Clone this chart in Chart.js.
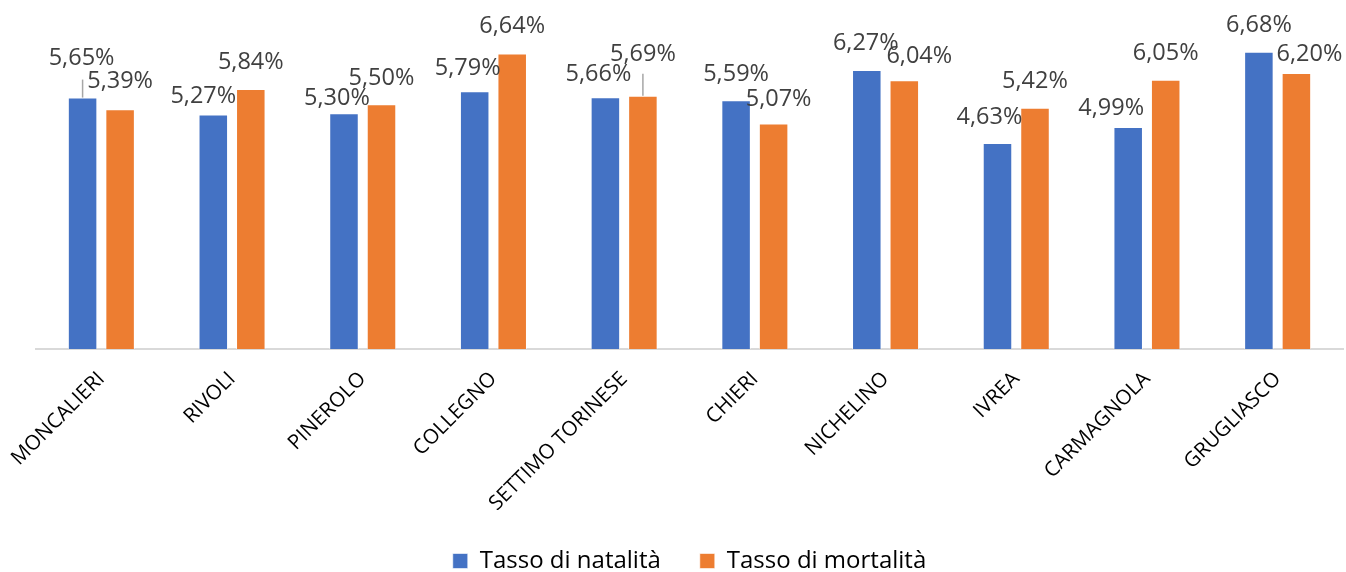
<!DOCTYPE html>
<html>
<head>
<meta charset="utf-8">
<script src="https://cdn.jsdelivr.net/npm/chart.js@4/dist/chart.umd.min.js"></script>
<style>
    html, body { margin: 0; padding: 0; background: #fff; overflow: hidden; }
    #wrap { width: 1346px; height: 583px; position: relative; }
</style>
</head>
<body>
<div id="wrap"><canvas id="myChart"></canvas></div>
<script>
const categories = ['MONCALIERI', 'RIVOLI', 'PINEROLO', 'COLLEGNO', 'SETTIMO TORINESE',
    'CHIERI', 'NICHELINO', 'IVREA', 'CARMAGNOLA', 'GRUGLIASCO'];
const natalita = [5.65, 5.27, 5.30, 5.79, 5.66, 5.59, 6.27, 4.63, 4.99, 6.68];
const mortalita = [5.39, 5.84, 5.50, 6.64, 5.69, 5.07, 6.04, 5.42, 6.05, 6.20];

// label nudges in px from the bar top (dx, dy of the label centre), leader = grey line length
const labelNudges = [
    { 0: [-1, -39, 18], 1: [-10, -18], 2: [-7, -15], 3: [-7, -23], 4: [-7, -23],
      5: [0, -26], 6: [-1, -27], 7: [-8, -26], 8: [-17, -19], 9: [0, -26] },
    { 0: [0, -28], 1: [0, -27], 2: [0, -26], 3: [0, -27], 4: [0, -41, 22],
      5: [5, -24], 6: [15, -24], 7: [0, -26], 8: [0, -26], 9: [13, -19] }
];

const valueLabels = {
    id: 'valueLabels',
    afterDatasetsDraw(chart) {
        const ctx = chart.ctx;
        ctx.save();
        ctx.font = '23.5px "Open Sans"';
        ctx.fillStyle = '#404040';
        ctx.textAlign = 'center';
        ctx.textBaseline = 'middle';
        chart.data.datasets.forEach((ds, d) => {
            chart.getDatasetMeta(d).data.forEach((bar, i) => {
                const n = labelNudges[d][i] || [0, -26];
                if (n[2]) {
                    ctx.strokeStyle = '#a6a6a6';
                    ctx.lineWidth = 1.5;
                    ctx.beginPath();
                    ctx.moveTo(bar.x, bar.y - n[2]);
                    ctx.lineTo(bar.x, bar.y);
                    ctx.stroke();
                }
                const txt = ds.data[i].toFixed(2).replace('.', ',') + '%';
                ctx.fillText(txt, bar.x + n[0], bar.y + n[1]);
            });
        });
        ctx.restore();
    }
};

function displayChart() {
    const ctx = document.getElementById('myChart');
    new Chart(ctx, {
        type: 'bar',
        data: {
            labels: categories,
            datasets: [{
                label: 'Tasso di natalità',
                data: natalita,
                backgroundColor: '#4472C4',
                borderColor: 'rgba(255,255,255,0.6)',
                borderWidth: 1
            }, {
                label: 'Tasso di mortalità',
                data: mortalita,
                backgroundColor: '#ED7D31',
                borderColor: 'rgba(255,255,255,0.6)',
                borderWidth: 1
            }]
        },
        options: {
            responsive: true,
            maintainAspectRatio: false,
            animation: false,
            datasets: {
                bar: { categoryPercentage: 0.574, barPercentage: 0.787 }
            },
            layout: { padding: { left: 36, right: 3, top: 37.5, bottom: 0 } },
            scales: {
                x: {
                    grid: { display: false, drawTicks: false },
                    border: { display: true, color: '#d9d9d9', width: 2 },
                    ticks: {
                        color: '#000',
                        font: { family: 'Open Sans', size: 20.5 },
                        minRotation: 45,
                        maxRotation: 45,
                        padding: 18
                    },
                    afterFit(scale) {
                        scale.height = 161;
                        scale.paddingLeft = 0;
                        scale.paddingRight = 0;
                    }
                },
                y: { display: false, min: 0, max: 7 }
            },
            plugins: {
                legend: {
                    position: 'bottom',
                    labels: {
                        color: '#000',
                        font: { family: 'Open Sans', size: 24 },
                        boxWidth: 15,
                        boxHeight: 15,
                        padding: 39
                    }
                },
                tooltip: { enabled: false }
            }
        },
        plugins: [valueLabels]
    });
}

document.addEventListener('DOMContentLoaded', () => {
    displayChart();
});
</script>
</body>
</html>
